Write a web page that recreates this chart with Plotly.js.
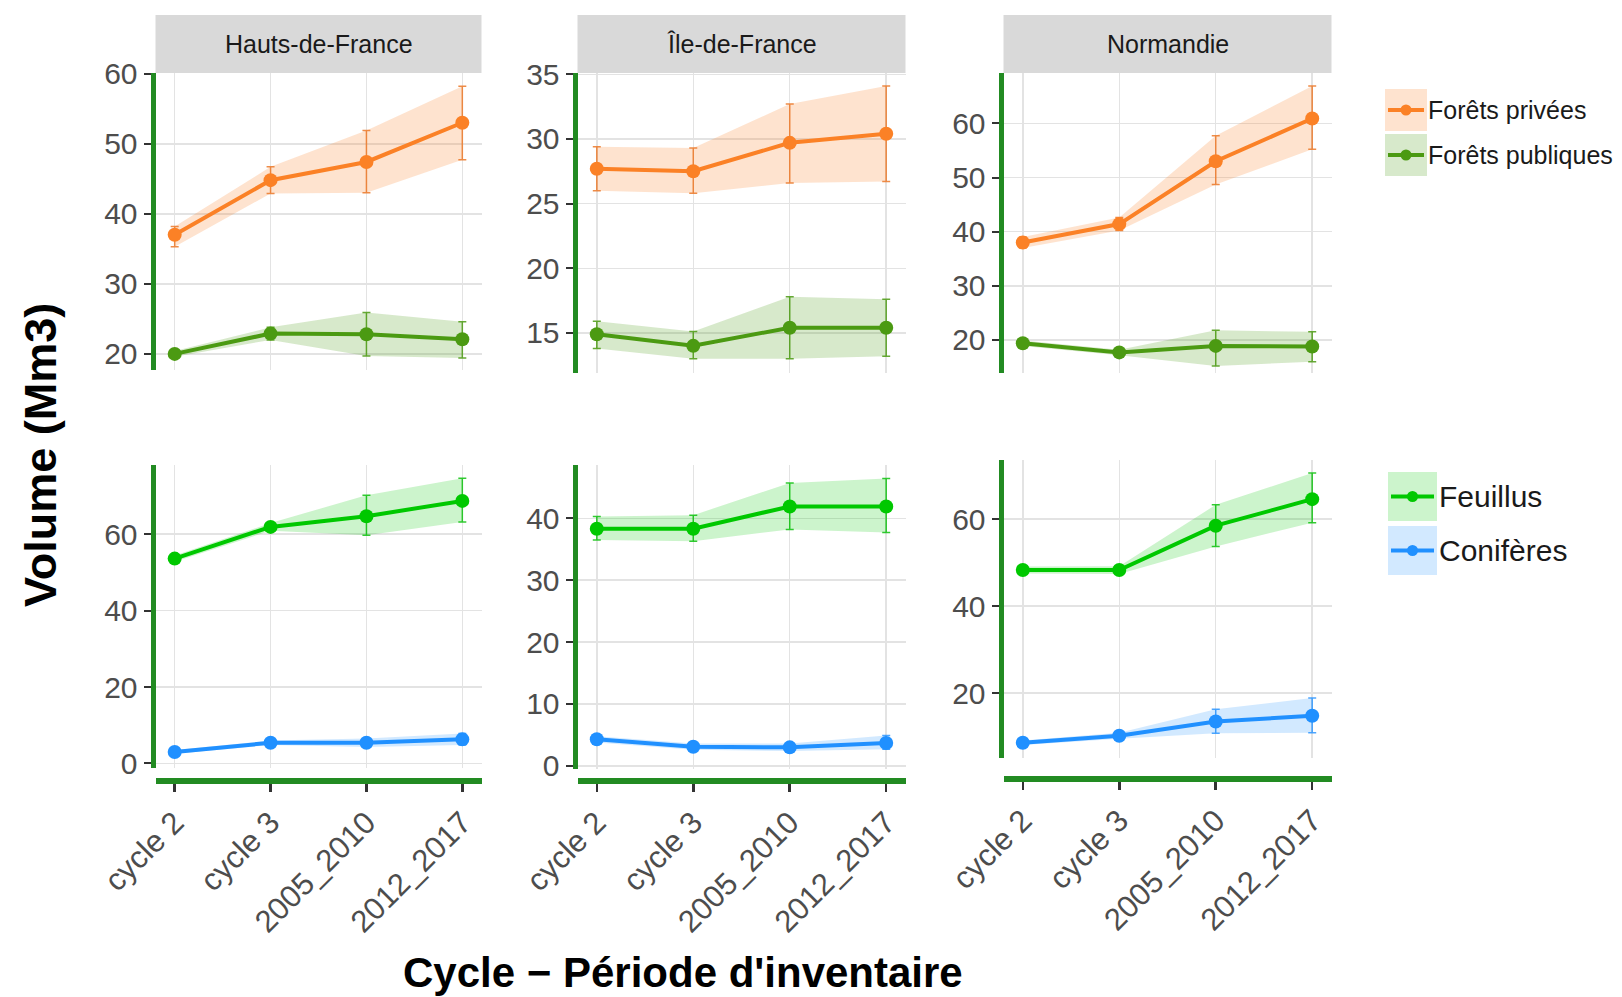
<!DOCTYPE html>
<html><head><meta charset="utf-8">
<script src="https://cdn.plot.ly/plotly-3.0.1.min.js"></script>
<style>body{margin:0;background:#fff}</style>
</head><body><div id="chart" style="width:1622px;height:997px"></div>
<script>
// ---- data ----
const cycles = ["cycle 2", "cycle 3", "2005_2010", "2012_2017"];
const regions = ["Hauts-de-France", "Île-de-France", "Normandie"];

// Forêts privées (one row per region)
const priv_mean = [[37.0, 44.8, 47.4, 53.0], [27.7, 27.5, 29.7, 30.4], [38.0, 41.4, 53.0, 60.9]];
const priv_lo   = [[35.3, 42.9, 43.0, 47.7], [26.0, 25.8, 26.6, 26.7], [37.0, 40.2, 48.7, 55.2]];
const priv_hi   = [[38.2, 46.7, 51.9, 58.2], [29.4, 29.3, 32.7, 34.1], [39.0, 42.6, 57.7, 66.9]];
// Forêts publiques
const pub_mean = [[20.0, 22.9, 22.8, 22.1], [14.9, 14.0, 15.4, 15.4], [19.4, 17.7, 18.9, 18.8]];
const pub_lo   = [[19.6, 22.0, 19.7, 19.4], [13.8, 13.0, 13.0, 13.2], [18.9, 17.2, 15.2, 16.0]];
const pub_hi   = [[20.4, 23.8, 25.9, 24.6], [15.9, 15.1, 17.8, 17.6], [19.9, 18.2, 21.8, 21.5]];
// Feuillus
const feu_mean = [[53.6, 61.9, 64.7, 68.7], [38.3, 38.3, 41.9, 41.9], [48.3, 48.3, 58.5, 64.6]];
const feu_lo   = [[52.8, 60.9, 59.7, 63.2], [36.5, 36.3, 38.2, 37.7], [47.5, 47.4, 53.7, 59.2]];
const feu_hi   = [[54.4, 62.9, 70.2, 74.6], [40.3, 40.5, 45.7, 46.4], [49.1, 49.2, 63.3, 70.6]];
// Conifères
const con_mean = [[3.0, 5.4, 5.4, 6.3], [4.3, 3.1, 3.0, 3.7], [8.6, 10.2, 13.5, 14.8]];
const con_lo   = [[2.5, 4.8, 4.3, 4.8], [3.8, 2.6, 2.4, 2.7], [8.1, 9.5, 10.8, 10.9]];
const con_hi   = [[3.5, 6.0, 6.5, 7.8], [4.8, 3.6, 3.6, 4.9], [9.1, 10.9, 16.3, 18.9]];

const legendTop = ["Forêts privées", "Forêts publiques"];
const legendBottom = ["Feuillus", "Conifères"];

// ---- styles ----
const W = 1622, H = 997;
const px = v => v / W, py = v => 1 - v / H;
const C = {
  priv: {line: "#fb8126", err: "rgba(235,120,40,0.85)", fill: "rgba(251,129,38,0.22)"},
  pub:  {line: "#4b9a12", err: "rgba(75,154,18,0.85)", fill: "rgba(75,154,18,0.22)"},
  feu:  {line: "#00c800", err: "rgba(0,190,0,0.8)", fill: "rgba(0,200,0,0.2)"},
  con:  {line: "#2090ff", err: "rgba(32,144,255,0.8)", fill: "rgba(32,144,255,0.2)"}
};
const axisGreen = "#228B22";
const colX = [[155.5, 481.5], [577.5, 905.5], [1003.5, 1331.5]];
const topY = [[73, 370], [73, 373], [73, 373]];
const botY = [[465, 768], [465, 769], [460, 758]];
const topRange = [[17.7, 60.1], [11.9, 35.1], [13.9, 69.3]];
const topDtick = [10, 5, 10];
const botRange = [[-1.2, 78.1], [-0.5, 48.6], [5.1, 73.6]];
const botDtick = [20, 10, 20];

const traces = [];
function addSeries(ax, mean, lo, hi, col) {
  const xa = "x" + (ax === 1 ? "" : ax), ya = "y" + (ax === 1 ? "" : ax);
  traces.push({
    type: "scatter", mode: "lines", xaxis: xa, yaxis: ya,
    x: cycles.concat(cycles.slice().reverse()),
    y: hi.concat(lo.slice().reverse()),
    fill: "toself", fillcolor: col.fill, line: {width: 0},
    hoverinfo: "skip", showlegend: false
  });
  traces.push({
    type: "scatter", mode: "lines+markers", xaxis: xa, yaxis: ya,
    x: cycles, y: mean,
    line: {color: col.line, width: 4},
    marker: {color: col.line, size: 14},
    error_y: {type: "data", symmetric: false,
      array: hi.map((h, i) => h - mean[i]),
      arrayminus: lo.map((l, i) => mean[i] - l),
      color: col.err, thickness: 1.5, width: 4},
    showlegend: false
  });
}

const layout = {
  width: W, height: H, margin: {l: 0, r: 0, t: 0, b: 0},
  paper_bgcolor: "#fff", plot_bgcolor: "#fff",
  font: {family: "Liberation Sans, Arial, sans-serif", color: "#4d4d4d"},
  showlegend: false, shapes: [], annotations: []
};

function yAxis(dom, range, dtick) {
  return {
    domain: [py(dom[1]), py(dom[0])], range: range, dtick: dtick, tick0: 0,
    showline: true, linecolor: axisGreen, linewidth: 5,
    ticks: "outside", ticklen: 7, tickwidth: 2, tickcolor: "#333",
    showgrid: true, gridcolor: "#e3e3e3", gridwidth: 1.5, zeroline: false,
    tickfont: {size: 30, color: "#4d4d4d"}, fixedrange: true
  };
}

for (let r = 0; r < 3; r++) {
  const top = r + 1, bot = r + 4;
  addSeries(top, priv_mean[r], priv_lo[r], priv_hi[r], C.priv);
  addSeries(top, pub_mean[r], pub_lo[r], pub_hi[r], C.pub);
  addSeries(bot, feu_mean[r], feu_lo[r], feu_hi[r], C.feu);
  addSeries(bot, con_mean[r], con_lo[r], con_hi[r], C.con);

  const xdom = [px(colX[r][0]), px(colX[r][1])];
  layout["xaxis" + (top === 1 ? "" : top)] = {
    domain: xdom, type: "category", categoryorder: "array", categoryarray: cycles,
    range: [-0.2, 3.2], anchor: "y" + (top === 1 ? "" : top),
    showline: false, showticklabels: false, ticks: "",
    showgrid: true, gridcolor: "#e3e3e3", gridwidth: 1.5, zeroline: false, fixedrange: true
  };
  layout["yaxis" + (top === 1 ? "" : top)] = Object.assign(
    yAxis(topY[r], topRange[r], topDtick[r]), {anchor: "x" + (top === 1 ? "" : top)});

  layout["xaxis" + bot] = {
    domain: xdom, type: "category", categoryorder: "array", categoryarray: cycles,
    range: [-0.2, 3.2], anchor: "free", position: py(r === 2 ? 779 : 781),
    showline: true, linecolor: axisGreen, linewidth: 6,
    ticks: "outside", ticklen: 8, tickwidth: 2.5, tickcolor: "#333",
    tickangle: -45, tickfont: {size: 31, color: "#4d4d4d"},
    showgrid: true, gridcolor: "#e3e3e3", gridwidth: 1.5, zeroline: false, fixedrange: true
  };
  layout["yaxis" + bot] = Object.assign(
    yAxis(botY[r], botRange[r], botDtick[r]), {anchor: "x" + bot});

  // facet strip
  layout.shapes.push({type: "rect", xref: "paper", yref: "paper",
    x0: xdom[0], x1: xdom[1], y0: py(73), y1: py(15),
    fillcolor: "#d9d9d9", line: {width: 0}, layer: "below"});
  layout.annotations.push({xref: "paper", yref: "paper", x: (xdom[0] + xdom[1]) / 2, y: py(44),
    text: regions[r], showarrow: false, xanchor: "center", yanchor: "middle",
    font: {size: 25, color: "#1a1a1a"}});
}

// axis titles
layout.annotations.push({xref: "paper", yref: "paper", x: px(683), y: py(972),
  text: "<b>Cycle − Période d'inventaire</b>", showarrow: false,
  xanchor: "center", yanchor: "middle", font: {size: 42, color: "#000"}});
layout.annotations.push({xref: "paper", yref: "paper", x: px(40), y: py(455),
  text: "<b>Volume (Mm3)</b>", showarrow: false, textangle: -90,
  xanchor: "center", yanchor: "middle", font: {size: 45, color: "#000"}});

// legends
function legendItem(x0, x1, y0, y1, col, label, size, tx) {
  const yc = (y0 + y1) / 2, xc = (x0 + x1) / 2;
  layout.shapes.push({type: "rect", xref: "paper", yref: "paper",
    x0: px(x0), x1: px(x1), y0: py(y1), y1: py(y0), fillcolor: col.fill, line: {width: 0}});
  layout.shapes.push({type: "line", xref: "paper", yref: "paper",
    x0: px(x0 + 3), x1: px(x1 - 3), y0: py(yc), y1: py(yc), line: {color: col.line, width: 4}});
  layout.shapes.push({type: "circle", xref: "paper", yref: "paper",
    x0: px(xc - 5.5), x1: px(xc + 5.5), y0: py(yc + 5.5), y1: py(yc - 5.5),
    fillcolor: col.line, line: {width: 0}});
  layout.annotations.push({xref: "paper", yref: "paper", x: px(tx), y: py(yc),
    text: label, showarrow: false, xanchor: "left", yanchor: "middle",
    font: {size: size, color: "#1a1a1a"}});
}
legendItem(1385, 1427, 89, 131, C.priv, legendTop[0], 25, 1426);
legendItem(1385, 1427, 134, 176, C.pub, legendTop[1], 25, 1426);
legendItem(1388, 1437, 472, 521, C.feu, legendBottom[0], 30, 1437);
legendItem(1388, 1437, 526, 575, C.con, legendBottom[1], 30, 1437);

Plotly.newPlot("chart", traces, layout, {staticPlot: true, displayModeBar: false});
</script>
</body></html>
